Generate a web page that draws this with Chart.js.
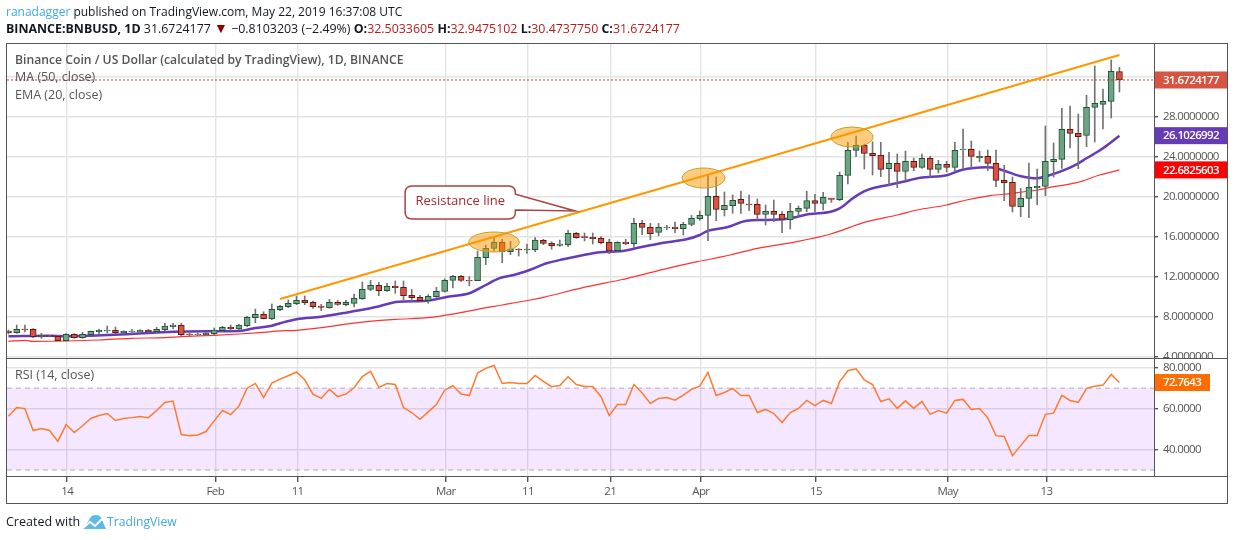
<!DOCTYPE html>
<html>
<head>
<meta charset="utf-8">
<title>BNBUSD</title>
<script src="https://cdn.jsdelivr.net/npm/chart.js@4/dist/chart.umd.min.js"></script>
<style>
html,body{margin:0;padding:0;background:#fff;width:1234px;height:540px;overflow:hidden}
body{font-family:"Open Sans",sans-serif;color:#131722}
canvas{position:absolute;left:0}
#priceChart{top:0}
#rsiChart{top:358px}
.t{position:absolute;white-space:nowrap;line-height:16px;font-size:12px}
.g{color:#555;font-size:12.5px}
.red{color:#b71c1c}
.blue{color:#3fa9e0}
.box{position:absolute;pointer-events:none}
</style>
</head>
<body>
<canvas id="priceChart" width="1234" height="358"></canvas>
<canvas id="rsiChart" width="1234" height="182"></canvas>

<div class="box" style="left:6px;top:43px;width:1220px;height:459px;border:1px solid #555"></div>
<div class="box" style="left:6px;top:357.5px;width:1221px;height:1px;background:#555"></div>
<div class="box" style="left:6px;top:476px;width:1221px;height:1px;background:#555"></div>
<div class="box" style="left:1154px;top:43px;width:1px;height:434px;background:#555"></div>

<div class="t" style="left:6px;top:4px"><span class="blue">ranadagger</span> published on TradingView.com, May 22, 2019 16:37:08 UTC</div>
<div class="t" style="left:6px;top:21px;font-size:12.4px"><b>BINANCE:BNBUSD, 1D</b> 31.6724177 <span style="color:#8b0000;font-size:14px;line-height:12px">▼</span> −0.8103203 (−2.49%) <b>O:</b><span class="red">32.5033605</span> <b>H:</b><span class="red">32.9475102</span> <b>L:</b><span class="red">30.4737750</span> <b>C:</b><span class="red">31.6724177</span></div>
<div class="t g" style="left:15px;top:52px;font-weight:600;font-size:12.2px">Binance Coin / US Dollar (calculated by TradingView), 1D, BINANCE</div>
<div class="t g" style="left:15px;top:69px">MA (50, close)</div>
<div class="t g" style="left:15px;top:87px">EMA (20, close)</div>
<div class="t g" style="left:15px;top:367px">RSI (14, close)</div>
<div class="t" style="left:6px;top:514px;font-size:12.5px">Created with</div>
<svg class="box" style="left:82px;top:514px" width="24" height="16" viewBox="0 0 24 16"><path d="M1 15 L7 6 Q9 1 14 1 Q19 1 20 6 L24 15 Z" fill="#5cbbe8"/><path d="M1 14 L8 8 L13 12 L20 5" fill="none" stroke="#fff" stroke-width="2"/></svg>
<div class="t blue" style="left:107px;top:514px;font-size:12.2px">TradingView</div>

<script>
// days are counted from Jan 7 2019, one bar per day
const opens = [6.57,6.40,6.77,6.74,6.00,6.14,6.04,5.60,6.24,5.90,6.20,6.50,6.57,6.64,6.40,6.47,6.47,6.64,6.50,6.70,
  7.00,7.14,6.27,6.20,6.17,6.30,6.60,6.94,6.77,7.10,7.90,8.24,7.80,8.70,9.00,9.30,9.64,9.44,9.07,8.90,
  9.44,9.20,9.34,9.80,10.74,11.14,10.60,11.04,10.94,10.14,9.94,9.60,10.00,10.54,11.64,12.04,11.64,11.60,13.90,14.84,
  15.44,14.50,14.77,14.67,14.70,15.64,15.34,15.14,15.20,16.34,16.00,15.94,15.84,15.44,14.60,15.47,15.30,17.34,16.94,16.44,
  16.90,16.97,16.80,17.24,17.80,18.14,20.04,18.70,19.10,19.74,19.27,19.24,18.24,18.54,18.24,17.70,18.54,18.84,19.60,19.34,
  19.84,19.70,22.14,24.64,25.14,24.34,24.14,22.80,23.34,22.54,23.54,22.94,23.84,22.74,23.24,22.94,24.70,24.74,23.90,24.04,
  23.34,21.64,21.44,19.00,19.84,20.90,21.04,23.50,23.74,26.74,26.34,26.14,28.94,29.24,29.54,32.50];
const highs = [6.67,7.17,7.17,6.80,6.34,6.14,6.10,6.30,6.30,6.44,6.57,6.77,7.07,6.97,6.60,6.74,6.70,6.74,6.94,7.34,
  7.34,7.34,6.47,6.40,6.44,6.87,7.04,7.17,7.24,8.04,8.77,8.50,9.27,9.14,9.67,10.07,10.07,9.57,9.24,9.74,
  9.64,9.64,10.27,11.47,11.64,11.44,11.34,11.57,11.57,10.74,10.14,10.20,10.94,11.80,12.14,12.14,12.00,14.57,15.17,15.94,
  15.74,15.54,14.80,15.27,15.90,15.74,15.50,15.67,16.64,16.44,16.37,16.37,16.00,15.74,15.50,15.74,17.84,17.64,17.34,17.34,
  17.14,17.47,17.44,18.14,18.57,22.17,21.97,20.47,20.17,20.57,20.17,19.77,19.17,19.67,18.50,19.34,19.07,20.54,20.24,20.44,
  19.84,22.47,25.44,26.07,25.27,25.50,25.44,24.44,24.27,24.57,23.87,24.27,24.04,23.64,23.54,25.44,26.77,25.57,24.57,24.67,
  24.67,23.14,21.97,20.84,23.37,22.77,27.07,25.37,28.84,29.07,28.27,30.14,33.07,30.77,33.67,32.95];
const lows = [6.27,6.34,6.47,5.90,5.84,6.00,5.60,5.57,5.84,5.84,6.17,6.30,6.37,6.30,6.34,6.27,6.40,6.40,6.40,6.57,
  6.80,6.00,6.00,6.10,6.10,6.17,6.54,6.64,6.70,7.00,7.40,7.77,7.70,8.60,8.90,9.20,9.20,8.84,8.60,8.84,
  9.14,9.07,8.97,9.74,10.60,10.10,10.54,10.34,9.67,9.44,9.50,9.34,9.94,10.47,10.87,11.54,11.10,11.60,13.20,14.57,
  13.40,14.20,14.07,14.34,14.50,15.20,14.74,15.04,15.00,15.84,15.57,15.27,15.27,14.30,14.54,15.20,14.94,16.20,15.70,16.10,
  16.70,16.40,16.17,17.10,17.64,15.60,17.60,18.07,18.34,18.34,18.60,17.67,17.17,17.50,16.40,16.77,18.04,18.50,18.50,18.67,
  19.44,19.60,21.27,24.00,22.77,22.17,22.00,21.07,20.90,21.64,22.60,22.84,21.97,22.37,22.47,22.60,22.74,22.97,23.50,22.60,
  21.00,19.60,18.47,18.00,17.90,19.20,20.10,21.97,22.84,24.87,22.80,25.00,25.47,26.77,27.87,30.47];
const closes = [6.40,6.74,6.70,6.00,6.14,6.04,5.60,6.24,5.90,6.24,6.54,6.64,6.64,6.40,6.54,6.54,6.64,6.50,6.74,7.07,
  7.17,6.20,6.20,6.27,6.37,6.67,6.94,6.80,7.17,7.94,8.24,7.80,8.74,9.04,9.34,9.64,9.40,9.00,8.94,9.44,
  9.24,9.44,9.84,10.74,11.14,10.60,11.04,10.90,10.10,9.90,9.60,10.04,10.54,11.64,12.04,11.64,11.57,13.94,14.84,15.44,
  14.50,14.77,14.67,14.77,15.67,15.34,15.10,15.27,16.34,15.90,15.90,15.80,15.40,14.57,15.44,15.30,17.34,16.94,16.30,16.94,
  16.97,16.80,17.24,17.84,18.14,20.04,18.74,19.14,19.64,19.34,19.20,18.24,18.54,18.24,17.74,18.54,18.84,19.60,19.34,19.94,
  19.74,22.14,24.64,25.14,24.34,24.10,22.74,23.34,22.54,23.54,22.94,23.84,22.74,23.24,22.94,24.64,24.77,24.04,24.04,23.34,
  21.64,21.40,19.04,19.84,20.94,21.04,23.54,23.74,26.74,26.34,26.00,28.94,29.34,29.54,32.54,31.67];

const emaDays = [0,5,7,10,15,20,25,28,30,32,33,35,38,41,44.5,47.4,50.5,53.4,56,58,59.6,61.4,63.4,65.4,67.4,69.9,71.9,74.3,76.8,79.6,82.4,84,85,87.3,89.7,91.8,94.6,97.4,99.9,101,102.6,103.9,105,106.9,108.7,110.8,114,115.8,118.9,120,122.9,125,126.2,127.8,129.8,131,133,135];
const emaValues = [6.04,6.10,6.04,6.10,6.27,6.50,6.54,6.57,6.87,7.10,7.34,7.75,8.00,8.40,8.94,9.50,9.57,10.00,10.34,11.17,11.84,12.17,12.70,13.34,13.74,14.17,14.44,14.54,14.94,15.40,15.74,16.17,16.60,16.94,17.60,17.67,17.80,18.27,18.50,18.84,19.84,20.50,20.84,21.17,21.50,21.90,22.14,22.67,22.94,22.84,22.07,21.84,22.07,22.50,23.24,23.84,24.84,26.10];
const maDays = [0,2,3,7,11,15,19,21,25,28,31,33.5,35,43.5,47,51,54.5,57,60,63.4,65,70.3,74.3,79.6,83.7,87.7,91,95.8,99.9,104.3,108,110.4,114,116.4,119.3,122,125,127,129.8,132.6,135];
const maValues = [5.54,5.64,5.54,5.57,5.67,5.84,5.90,6.00,6.14,6.27,6.44,6.60,6.64,7.50,7.74,7.90,8.34,8.74,9.17,9.67,9.94,11.00,11.67,12.74,13.50,14.17,14.84,15.50,16.27,17.50,18.17,18.67,19.17,19.67,20.10,20.34,20.67,21.00,21.40,22.17,22.68];
const resistanceDays = [33,135];
const resistanceValues = [9.77,34.17];
const rsiValues = [56.3,60.5,60.0,49.3,50.3,49.3,44.0,52.2,48.3,51.6,55.2,56.6,57.6,54.2,55.2,55.6,56.1,55.6,59.1,63.0,
  63.7,47.3,46.8,47.1,48.8,54.0,59.1,57.1,61.2,70.0,72.3,65.4,72.5,74.4,76.1,77.9,74.1,67.1,65.0,69.5,
  65.9,67.1,70.2,75.7,78.2,70.4,72.3,71.8,60.5,58.1,54.8,58.4,62.0,69.0,71.2,67.1,66.4,77.4,79.7,81.1,
  72.3,72.8,72.3,72.3,76.2,73.3,70.7,71.3,75.6,71.8,70.8,70.8,65.8,56.6,62.0,62.0,71.8,67.7,62.5,65.0,
  65.4,64.1,66.6,69.4,71.0,77.7,66.4,67.9,69.9,66.4,66.4,58.1,59.6,57.6,53.2,58.1,60.1,64.0,61.5,64.0,
  62.5,73.2,78.5,79.5,74.0,71.8,63.5,64.8,60.1,63.8,60.1,63.5,57.2,59.1,57.8,64.0,64.5,59.6,60.1,55.5,
  46.8,46.4,37.0,41.9,46.8,46.8,57.2,57.8,66.5,64.0,63.0,69.9,70.9,71.5,76.7,72.76];

const tickDays = [7,25,35,53,63,73,84,98,114,126];
const tickLabels = ['14','Feb','11','Mar','11','21','Apr','15','May','13'];
const priceTicks = [4,8,12,16,20,24,28,32];
const rsiTicks = [40,60,80];
const lastClose = 31.6724177, lastEma = 26.1026992, lastMa = 22.6825603, lastRsi = 72.7643;

const X_MIN = -0.18, X_MAX = 139.2;
const FONT = '"Open Sans",sans-serif';
const GRID = '#e3e3e3', AXIS = '#555', LABEL = '#555';
const UP = '#6ba583', DOWN = '#d75442', UP_B = '#225437', DOWN_B = '#5b1a13', WICK = '#737375';
const TIGHT = '-0.64px'; // axis labels are narrower in the original

const days = opens.map((_, i) => i);
const pairs = (xs, ys) => xs.map((x, i) => ({x: x, y: ys[i]}));
const isUp = i => closes[i] >= opens[i];

// grid lines sit a hair right of the bars in the original
const xAxis = (showLabels) => ({
  type: 'linear', min: X_MIN, max: X_MAX, offset: false,
  afterBuildTicks: s => { s.ticks = tickDays.map(d => ({value: d + 0.13})) },
  afterFit: s => { s.height = showLabels ? 27 : 0; s.paddingLeft = 0; s.paddingRight = 0 },
  border: {display: false},
  grid: {color: GRID, lineWidth: 1.4, offset: false, drawTicks: showLabels, tickLength: 5, tickColor: AXIS},
  ticks: {display: showLabels, autoSkip: false, maxRotation: 0, color: LABEL, padding: 3,
    font: {family: FONT, size: 11.5}, callback: (v, i) => tickLabels[i]}
});
const yAxis = (min, max, ticks, digits) => ({
  position: 'right', min: min, max: max,
  afterBuildTicks: s => { s.ticks = ticks.map(v => ({value: v})) },
  afterFit: s => { s.width = 73; s.paddingTop = 0; s.paddingBottom = 0 },
  border: {display: false},
  grid: {color: GRID, lineWidth: 1.4, tickLength: 4, tickColor: AXIS},
  ticks: {color: LABEL, padding: 5, font: {family: FONT, size: 11.5}, callback: v => v.toFixed(digits)}
});

// coloured value tags on the axis
function drawTag(chart, scaleId, value, text, color, w) {
  const c = chart.ctx, a = chart.chartArea, y = chart.scales[scaleId].getPixelForValue(value);
  c.save();
  c.fillStyle = color;
  c.fillRect(a.right, y - 8.5, w, 17);
  c.fillStyle = '#fff';
  c.font = '600 11.5px ' + FONT;
  c.letterSpacing = TIGHT;
  c.textBaseline = 'middle';
  c.fillText(text, a.right + 9, y + 0.5);
  c.restore();
}

const tightText = {
  id: 'tightText',
  beforeDraw(chart) { chart.ctx.letterSpacing = TIGHT }
};

// highlighted touches of the resistance line, in chart values
const touches = [[59, 15.47, 3.07], [84.47, 21.87, 2.6], [102.5, 25.97, 2.55]];

const annotations = {
  id: 'annotations',
  afterDatasetsDraw(chart) {
    const c = chart.ctx, sx = chart.scales.x, sy = chart.scales.y;
    const px = d => sx.getPixelForValue(d), py = v => sy.getPixelForValue(v);
    c.save();
    touches.forEach(t => {
      c.beginPath();
      c.ellipse(px(t[0]), py(t[1]), px(t[0] + t[2]) - px(t[0]), py(t[1] - 1) - py(t[1]), 0, 0, Math.PI * 2);
      c.fillStyle = 'rgba(255,152,0,0.5)';
      c.fill();
      c.lineWidth = 1;
      c.strokeStyle = '#b9a32f';
      c.stroke();
    });
    // callout
    const l = px(48.2), r = px(61.6), t = py(21.07), b = py(17.77), rad = 7;
    c.beginPath();
    c.moveTo(l + rad, t);
    c.lineTo(r - rad, t);
    c.quadraticCurveTo(r, t, r, t + rad);
    c.lineTo(r, py(20.24));
    c.lineTo(px(68.85), py(18.57));
    c.lineTo(r, py(18.67));
    c.lineTo(r, b - rad);
    c.quadraticCurveTo(r, b, r - rad, b);
    c.lineTo(l + rad, b);
    c.quadraticCurveTo(l, b, l, b - rad);
    c.lineTo(l, t + rad);
    c.quadraticCurveTo(l, t, l + rad, t);
    c.closePath();
    c.fillStyle = '#fff';
    c.fill();
    c.lineWidth = 1.5;
    c.strokeStyle = '#a94442';
    c.stroke();
    c.fillStyle = '#a52a2a';
    c.font = '13px ' + FONT;
    c.letterSpacing = '0px';
    c.textAlign = 'center';
    c.textBaseline = 'middle';
    c.fillText('Resistance line', px(54.9), py(19.57));
    c.restore();
  },
  afterDraw(chart) {
    drawTag(chart, 'y', lastClose, lastClose.toFixed(7), DOWN, 73);
    drawTag(chart, 'y', lastEma, lastEma.toFixed(7), '#673ab7', 73);
    drawTag(chart, 'y', lastMa, lastMa.toFixed(7), '#ff0000', 73);
  }
};

const rsiTag = {
  id: 'rsiTag',
  afterDraw(chart) { drawTag(chart, 'y', lastRsi, lastRsi.toFixed(4), '#ff6d00', 56) }
};

new Chart(document.getElementById('priceChart'), {
  data: {datasets: [
    {type: 'line', data: pairs(maDays, maValues), borderColor: '#ff3030', borderWidth: 1.2, pointRadius: 0, cubicInterpolationMode: 'monotone', order: 5},
    {type: 'line', data: pairs(emaDays, emaValues), borderColor: '#673ab7', borderWidth: 2.5, pointRadius: 0, cubicInterpolationMode: 'monotone', order: 4},
    {type: 'bar', data: days.map(i => ({x: i, y: [lows[i], highs[i]]})), backgroundColor: WICK, barThickness: 1, grouped: false, order: 3},
    {type: 'bar', data: days.map(i => ({x: i, y: [opens[i], closes[i]]})),
      backgroundColor: days.map(i => isUp(i) ? UP : DOWN),
      borderColor: days.map(i => isUp(i) ? UP_B : DOWN_B),
      borderWidth: 1, borderSkipped: false, barThickness: 6, grouped: false, order: 2},
    {type: 'line', data: pairs([X_MIN, X_MAX], [lastClose, lastClose]), borderColor: '#c0392b', borderWidth: 1, borderDash: [2, 2], pointRadius: 0, order: 1},
    {type: 'line', data: pairs(resistanceDays, resistanceValues), borderColor: '#ff9800', borderWidth: 2, pointRadius: 0, order: 0}
  ]},
  options: {
    responsive: false, animation: false, devicePixelRatio: 1,
    layout: {padding: {left: 7, right: 7, top: 43, bottom: 0}},
    plugins: {legend: {display: false}, tooltip: {enabled: false}},
    scales: {x: xAxis(false), y: yAxis(3.87, 35.37, priceTicks, 7)}
  },
  plugins: [tightText, annotations]
});

new Chart(document.getElementById('rsiChart'), {
  type: 'line',
  data: {datasets: [
    {data: pairs([X_MIN, X_MAX], [70, 70]), borderColor: '#b7a9c2', borderWidth: 1, borderDash: [5, 4], pointRadius: 0,
      fill: {value: 30}, backgroundColor: 'rgba(153,21,255,0.1)', order: 3},
    {data: pairs([X_MIN, X_MAX], [30, 30]), borderColor: '#b7a9c2', borderWidth: 1, borderDash: [5, 4], pointRadius: 0, order: 2},
    {data: pairs(days, rsiValues), borderColor: '#ff7a2e', borderWidth: 1.5, pointRadius: 0, order: 1}
  ]},
  options: {
    responsive: false, animation: false, devicePixelRatio: 1,
    layout: {padding: {left: 7, right: 7, top: 0, bottom: 36}},
    plugins: {legend: {display: false}, tooltip: {enabled: false}},
    scales: {x: xAxis(true), y: yAxis(26.57, 84.75, rsiTicks, 4)}
  },
  plugins: [tightText, rsiTag]
});
</script>
</body>
</html>
